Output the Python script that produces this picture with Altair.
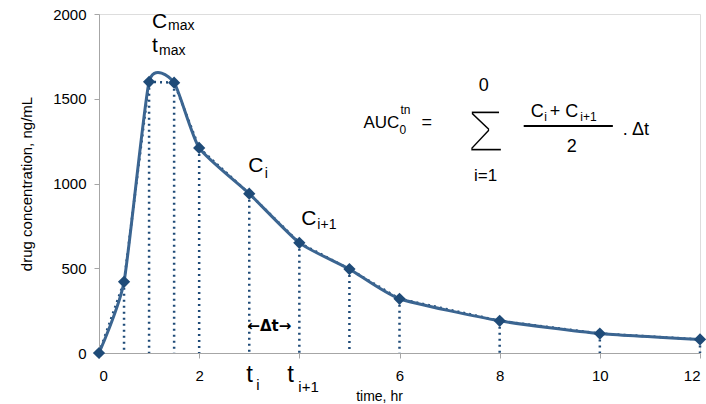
import altair as alt
import pandas as pd

# --- data ---
time_hr = [0, 0.5, 1, 1.5, 2, 3, 4, 5, 6, 8, 10, 12]
conc_ng_ml = [0, 420, 1600, 1595, 1210, 940, 650, 495, 320, 190, 115, 80]
x_ticks = [0, 2, 4, 6, 8, 10, 12]
y_ticks = [0, 500, 1000, 1500, 2000]

df = pd.DataFrame({"t": time_hr, "c": conc_ng_ml})
df_drop = df[df["t"] > 0]

LINE = "#3B6591"
MARK = "#1F4B78"
FONT = "Liberation Sans"

xs = alt.Scale(domain=[0, 12], nice=False)
ys = alt.Scale(domain=[0, 2000], nice=False)

x_enc = alt.X("t:Q", scale=xs, axis=alt.Axis(
    values=x_ticks, title="time, hr", grid=False, format="d",
    labelExpr="datum.value == 4 ? '' : datum.label",
    domainColor="#A6A6A6", tickColor="#A6A6A6", tickSize=5,
    labelFontSize=15, labelColor="#000000", labelPadding=10, labelFont=FONT,
    titleFont=FONT, titleFontSize=14, titleFontWeight="normal", titleColor="#000000",
    titleX=280, titleY=47, titleAlign="center", titleBaseline="alphabetic"))
y_enc = alt.Y("c:Q", scale=ys, axis=alt.Axis(
    values=y_ticks, title="drug concentration, ng/mL", grid=False, format="d",
    domainColor="#A6A6A6", tickColor="#A6A6A6", tickSize=5,
    labelFontSize=15, labelColor="#000000", labelPadding=8, labelFont=FONT,
    titleFont=FONT, titleFontSize=15, titleFontWeight="normal", titleColor="#000000",
    titlePadding=18))

base = alt.Chart(df)

drops = alt.Chart(df_drop).mark_rule(color=MARK, strokeDash=[2, 4], strokeWidth=2.5).encode(
    x=alt.X("t:Q", scale=xs), y=alt.Y("c:Q", scale=ys), y2=alt.datum(0))
dotted = base.mark_line(color=MARK, strokeDash=[2, 4], strokeWidth=2.5).encode(x=x_enc, y=y_enc)
smooth = base.mark_line(color=LINE, strokeWidth=3, interpolate="cardinal", tension=0.45).encode(
    x=alt.X("t:Q", scale=xs), y=alt.Y("c:Q", scale=ys))
pts = base.mark_point(shape="diamond", filled=True, size=150, color=MARK, opacity=1).encode(
    x=alt.X("t:Q", scale=xs), y=alt.Y("c:Q", scale=ys))


def txt(s, x, y, size, align="left", baseline="alphabetic", font=FONT, **kw):
    return alt.Chart(df.head(1)).mark_text(
        text=s, font=font, fontSize=size, align=align, baseline=baseline,
        color="#000000", **kw).encode(
        x=alt.datum(x, scale=xs), y=alt.datum(y, scale=ys))


labels = [
    txt("C", 1.06, 1917, 21), txt("max", 1.38, 1906, 14),
    txt("t", 1.06, 1776, 21), txt("max", 1.20, 1758, 14),
    txt("C", 2.98, 1068, 21), txt("i", 3.31, 1032, 14),
    txt("C", 4.04, 755, 21), txt("i+1", 4.36, 732, 14),
    txt("t", 2.94, -171, 24), txt("i", 3.14, -218, 15),
    txt("t", 3.76, -171, 24), txt("i+1", 3.98, -230, 15),
    txt("←Δt→", 3.4, 159, 15, align="center", baseline="middle",
        font="DejaVu Sans", fontWeight="bold"),
    txt("AUC", 5.28, 1327, 17), txt("0", 6.0, 1292, 12), txt("tn", 6.02, 1410, 12),
    txt("=", 6.44, 1327, 18),
    txt("Σ", 7.72, 1185, 62, align="center", stroke="white", strokeWidth=3),
    txt("0", 7.68, 1548, 18, align="center"),
    txt("i=1", 7.72, 1015, 17, align="center"),
    txt("C", 8.62, 1392, 18), txt("i", 8.89, 1369, 12),
    txt("+ C", 9.0, 1392, 18), txt("i+1", 9.61, 1369, 12),
    txt("2", 9.44, 1186, 18, align="center"),
    txt(". Δt", 10.46, 1286, 18),
]

frac = alt.Chart(df.head(1)).mark_rule(color="#000000", strokeWidth=2).encode(
    x=alt.datum(8.48, scale=xs), x2=alt.datum(10.26), y=alt.datum(1339, scale=ys))

chart = alt.layer(dotted, drops, smooth, pts, frac, *labels).properties(
    width=601, height=339,
    autosize=alt.AutoSizeParams(type="none"),
    padding={"left": 99, "top": 14, "right": 6, "bottom": 51},
).configure_view(stroke=None).configure(background="white")

chart.save("out.html", embed_options={"renderer": "svg", "actions": False})
